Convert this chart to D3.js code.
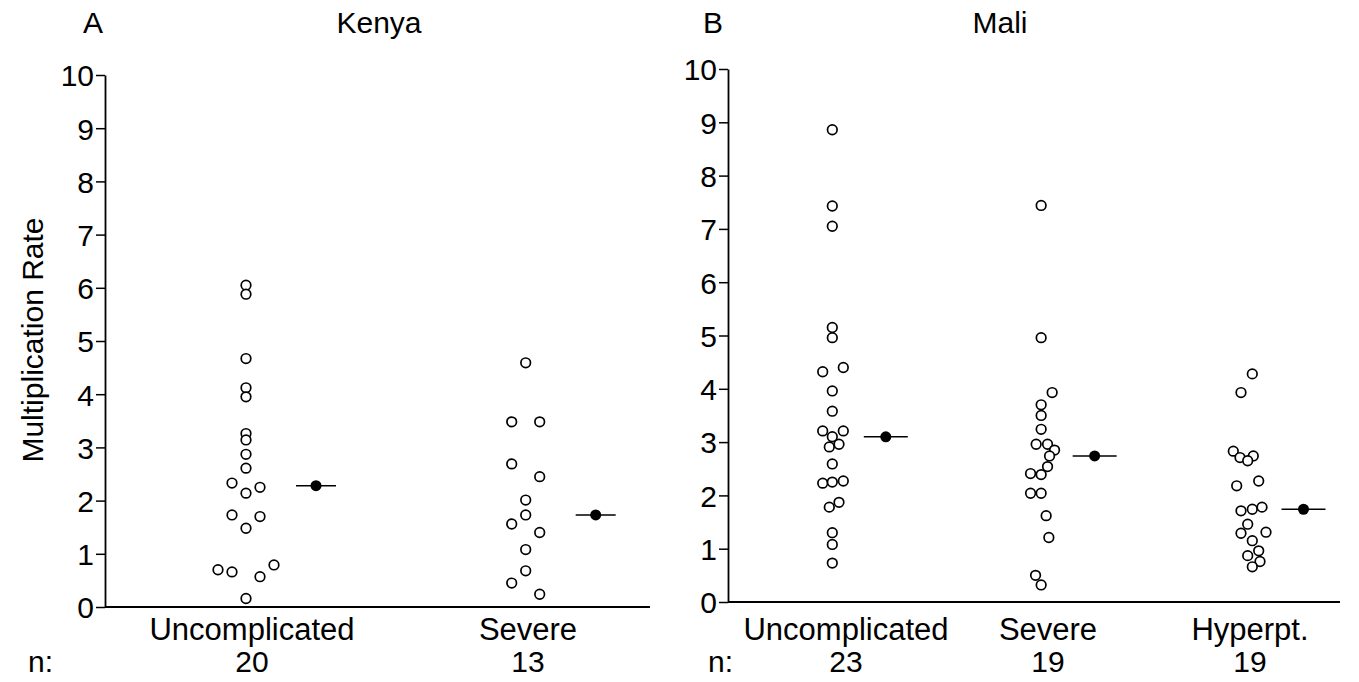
<!DOCTYPE html>
<html>
<head>
<meta charset="utf-8">
<script src="https://cdn.jsdelivr.net/npm/d3@7"></script>
<style>
  html, body { margin: 0; padding: 0; background: #fff; }
  svg text { font-family: "Liberation Sans", Arial, Helvetica, sans-serif; fill: #000; }
</style>
</head>
<body>
<svg id="chart" width="1359" height="682"></svg>
<script>
// ---------------- DATA ----------------
const yTickValues = [0, 1, 2, 3, 4, 5, 6, 7, 8, 9, 10];

const kenyaCategories = ["Uncomplicated", "Severe"];
const kenyaN = [20, 13];
const kenyaMeans = [2.28, 1.73];

const kenyaUncomplicatedValues = [6.05, 5.88, 4.67, 4.12, 3.95, 3.26, 3.14, 2.87, 2.61, 2.33, 2.14, 2.25, 1.73, 1.48, 1.70, 0.70, 0.66, 0.57, 0.79, 0.16];
const kenyaUncomplicatedJitter = [0, 0, 0, 0, 0, 0, 0, 0, 0, -1.4, 0, 1.4, -1.4, 0, 1.4, -2.8, -1.4, 1.4, 2.8, 0];

const kenyaSevereValues = [4.59, 3.48, 3.48, 2.69, 2.45, 2.01, 1.73, 1.56, 1.40, 1.08, 0.68, 0.45, 0.24];
const kenyaSevereJitter = [0, -1.4, 1.4, -1.4, 1.4, 0, 0, -1.4, 1.4, 0, 0, -1.4, 1.4];

const maliCategories = ["Uncomplicated", "Severe", "Hyperpt."];
const maliN = [23, 19, 19];
const maliMeans = [3.10, 2.74, 1.74];

const maliUncomplicatedValues = [8.86, 7.43, 7.05, 5.15, 4.96, 4.32, 4.40, 3.96, 3.58, 3.21, 3.21, 3.10, 2.91, 2.96, 2.59, 2.23, 2.25, 2.27, 1.78, 1.87, 1.30, 1.08, 0.73];
const maliUncomplicatedJitter = [0, 0, 0, 0, 0, -0.96, 1.1, 0, 0, -0.96, 1.1, 0, -0.3, 0.67, 0, -0.96, 0, 1.1, -0.3, 0.67, 0, 0, 0];

const maliSevereValues = [7.44, 4.96, 3.93, 3.70, 3.50, 3.24, 2.96, 2.96, 2.85, 2.74, 2.54, 2.41, 2.39, 2.04, 2.04, 1.62, 1.21, 0.50, 0.32];
const maliSevereJitter = [0, 0, 1.1, 0, 0, 0, -0.5, 0.64, 1.34, 0.84, 0.64, -1.06, 0, -1.06, 0, 0.5, 0.77, -0.56, 0];

const maliHyperptValues = [4.28, 3.93, 2.83, 2.71, 2.74, 2.65, 2.27, 2.18, 1.71, 1.74, 1.78, 1.46, 1.29, 1.31, 1.15, 0.96, 0.87, 0.76, 0.66];
const maliHyperptJitter = [0.23, -0.9, -1.67, -1.0, 0.33, -0.23, 0.87, -1.33, -0.9, 0.23, 1.2, -0.23, -0.9, 1.6, 0.23, 0.87, -0.23, 1.0, 0.23];

// ---------------- DRAW ----------------
const svg = d3.select("#chart");
const FONT = 30;
const CAT_FONT = 31;

function panel(opts) {
  const g = svg.append("g");
  const y = d3.scaleLinear().domain([0, 10]).range([opts.y0, opts.y10]);
  const xPts = d3.scalePoint().domain(opts.categories).range(opts.pointRange);
  const xLbl = d3.scalePoint().domain(opts.categories).range(opts.labelRange);
  const jitter = d3.scaleLinear().domain([0, 1]).range([0, 10]);

  // y axis
  const axis = d3.axisLeft(y).tickValues(yTickValues).tickSize(9).tickPadding(2).tickSizeOuter(0);
  const ax = g.append("g").attr("transform", `translate(${opts.axisX},0)`).call(axis);
  ax.select(".domain").attr("stroke", "#000").attr("stroke-width", 1.8);
  ax.selectAll(".tick line").attr("stroke", "#000").attr("stroke-width", 1.5);
  ax.selectAll(".tick text").attr("font-size", FONT).attr("font-family", null).attr("dy", "0.36em");

  // baseline
  g.append("line")
    .attr("x1", opts.axisX).attr("x2", opts.xEnd)
    .attr("y1", y(0)).attr("y2", y(0))
    .attr("stroke", "#000").attr("stroke-width", 1.8);

  // points
  opts.series.forEach((s, i) => {
    const cx = xPts(opts.categories[i]);
    g.append("g").selectAll("circle")
      .data(s.values.map((v, k) => ({ v, j: s.jitter[k] })))
      .join("circle")
      .attr("cx", d => cx + jitter(d.j))
      .attr("cy", d => y(d.v))
      .attr("r", 4.8)
      .attr("fill", "#fff")
      .attr("stroke", "#000")
      .attr("stroke-width", 1.7);

    // mean marker
    const mx = cx + opts.meanOffset;
    g.append("line")
      .attr("x1", mx - opts.meanHalf).attr("x2", mx + opts.meanHalf)
      .attr("y1", y(opts.means[i])).attr("y2", y(opts.means[i]))
      .attr("stroke", "#000").attr("stroke-width", 1.6);
    g.append("circle")
      .attr("cx", mx).attr("cy", y(opts.means[i]))
      .attr("r", 5.5).attr("fill", "#000");
  });

  // category labels & n
  g.selectAll(".cat").data(opts.categories).join("text")
    .attr("class", "cat")
    .attr("x", d => xLbl(d)).attr("y", 640)
    .attr("text-anchor", "middle").attr("font-size", CAT_FONT)
    .text(d => d);
  g.selectAll(".nval").data(opts.categories).join("text")
    .attr("class", "nval")
    .attr("x", d => xLbl(d)).attr("y", 672)
    .attr("text-anchor", "middle").attr("font-size", FONT)
    .text((d, i) => opts.n[i]);
  g.append("text").attr("x", opts.nX).attr("y", 672).attr("font-size", FONT).text("n:");

  // titles
  g.append("text").attr("x", opts.letterX).attr("y", 33).attr("font-size", FONT).text(opts.letter);
  g.append("text").attr("x", opts.titleX).attr("y", 33).attr("text-anchor", "middle")
    .attr("font-size", FONT).text(opts.title);
}

panel({
  categories: kenyaCategories, n: kenyaN, means: kenyaMeans,
  series: [
    { values: kenyaUncomplicatedValues, jitter: kenyaUncomplicatedJitter },
    { values: kenyaSevereValues, jitter: kenyaSevereJitter }
  ],
  y0: 607, y10: 75, axisX: 105, xEnd: 650,
  pointRange: [246, 525.7], labelRange: [252, 528],
  meanOffset: 70, meanHalf: 20,
  nX: 28, letter: "A", letterX: 83, title: "Kenya", titleX: 379
});

panel({
  categories: maliCategories, n: maliN, means: maliMeans,
  series: [
    { values: maliUncomplicatedValues, jitter: maliUncomplicatedJitter },
    { values: maliSevereValues, jitter: maliSevereJitter },
    { values: maliHyperptValues, jitter: maliHyperptJitter }
  ],
  y0: 602, y10: 69, axisX: 728, xEnd: 1340,
  pointRange: [832.3, 1250], labelRange: [846, 1250],
  meanOffset: 53.5, meanHalf: 22,
  nX: 708, letter: "B", letterX: 703, title: "Mali", titleX: 1000
});

// y-axis title
svg.append("text")
  .attr("transform", "translate(43,340) rotate(-90)")
  .attr("text-anchor", "middle")
  .attr("font-size", FONT)
  .text("Multiplication Rate");
</script>
</body>
</html>
